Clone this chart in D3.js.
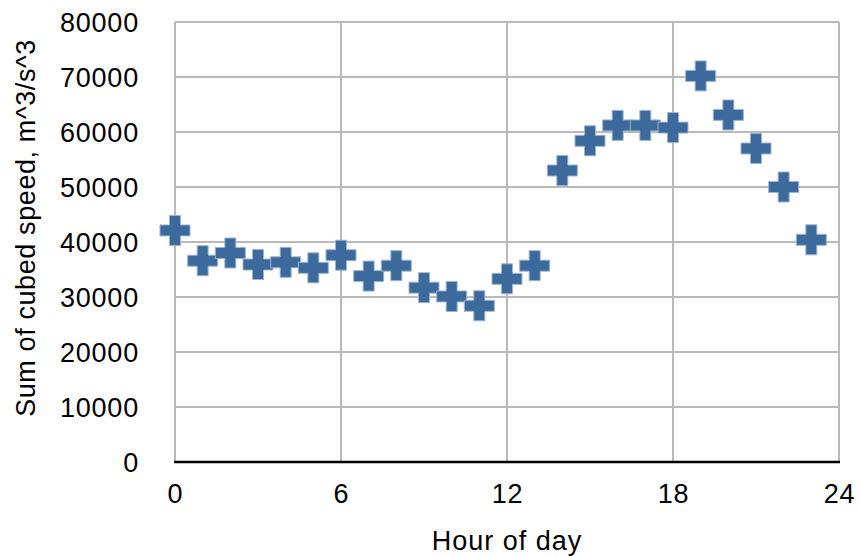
<!DOCTYPE html>
<meta charset="utf-8">
<script src="https://d3js.org/d3.v7.min.js"></script>
<style>
  body { margin: 0; background: #fff; }
  text { font-family: "Liberation Sans", Arial, sans-serif; }
</style>
<div id="chart"></div>
<script>
  // data
  var hours = [0, 1, 2, 3, 4, 5, 6, 7, 8, 9, 10, 11, 12, 13, 14, 15, 16, 17, 18, 19, 20, 21, 22, 23]
  var cubedSpeed = [42100, 36600, 38000, 35900, 36300, 35300, 37600, 33800, 35700, 31700,
                    30100, 28400, 33300, 35700, 53000, 58400, 61200, 61200, 60800, 70200,
                    63100, 57000, 50000, 40400]
  var xTicks = [0, 6, 12, 18, 24]
  var yTicks = [0, 10000, 20000, 30000, 40000, 50000, 60000, 70000, 80000]

  var width = 859, height = 556
  var margin = {top: 22, right: 20, bottom: 94, left: 175}

  var svg = d3.select("#chart").append("svg")
    .attr("width", width)
    .attr("height", height)

  var x = d3.scaleLinear().domain([0, 24]).range([margin.left, 839])
  var y = d3.scaleLinear().domain([0, 80000]).range([462, margin.top])

  // grid
  svg.append("g").selectAll("line.h")
    .data(yTicks)
    .enter().append("line")
      .attr("x1", x(0)).attr("x2", x(24))
      .attr("y1", function(d){ return y(d) }).attr("y2", function(d){ return y(d) })
      .attr("stroke", "#b9b9b9").attr("stroke-width", 2)

  svg.append("g").selectAll("line.v")
    .data(xTicks)
    .enter().append("line")
      .attr("x1", function(d){ return x(d) }).attr("x2", function(d){ return x(d) })
      .attr("y1", y(0)).attr("y2", y(80000))
      .attr("stroke", "#b9b9b9").attr("stroke-width", 2)

  // base line
  svg.append("line")
    .attr("x1", x(0) - 1).attr("x2", x(24) + 1)
    .attr("y1", y(0)).attr("y2", y(0))
    .attr("stroke", "#000").attr("stroke-width", 2.5)

  // y axis labels
  var yAxis = d3.axisLeft(y).tickValues(yTicks).tickSize(0).tickPadding(36).tickFormat(d3.format("d"))
  var gy = svg.append("g").attr("transform", "translate(" + x(0) + ",0)").call(yAxis)
  gy.select(".domain").remove()
  gy.selectAll("text").style("font-size", "27px").style("letter-spacing", "0.8px")
    .attr("fill", "#000").attr("dy", "0.36em")

  // x axis labels
  var xAxis = d3.axisBottom(x).tickValues(xTicks).tickSize(0).tickPadding(22)
  var gx = svg.append("g").attr("transform", "translate(0," + y(0) + ")").call(xAxis)
  gx.select(".domain").remove()
  gx.selectAll("text").style("font-size", "27px").style("letter-spacing", "0.8px").attr("fill", "#000")

  // titles
  svg.append("text")
    .attr("x", (x(0) + x(24)) / 2)
    .attr("y", 550)
    .attr("text-anchor", "middle")
    .style("font-size", "27px")
    .style("letter-spacing", "1px")
    .text("Hour of day")

  svg.append("text")
    .attr("transform", "translate(35," + 228 + ") rotate(-90)")
    .attr("text-anchor", "middle")
    .style("font-size", "27px")
    .style("letter-spacing", "0.6px")
    .text("Sum of cubed speed, m^3/s^3")

  // plus markers
  var s = 15, t = 5.5
  function plus() {
    return "M" + (-t) + "," + (-s) + "H" + t + "V" + (-t) + "H" + s + "V" + t + "H" + t +
      "V" + s + "H" + (-t) + "V" + t + "H" + (-s) + "V" + (-t) + "H" + (-t) + "Z"
  }

  svg.append("g").selectAll("path")
    .data(hours)
    .enter().append("path")
      .attr("d", plus())
      .attr("transform", function(d, i){ return "translate(" + x(d) + "," + y(cubedSpeed[i]) + ")" })
      .attr("fill", "#3c6a9c")
      .attr("stroke", "#9db4cf")
      .attr("stroke-width", 1)
</script>
